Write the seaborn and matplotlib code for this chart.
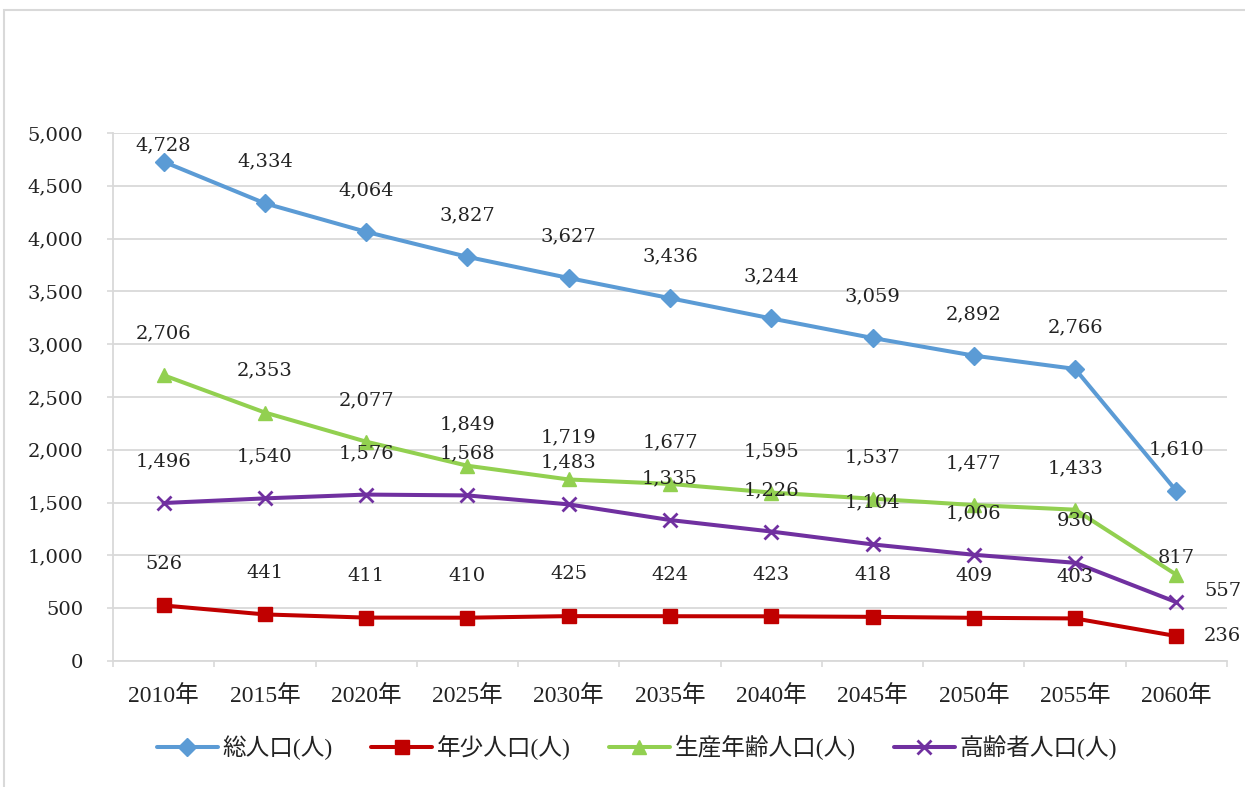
import numpy as np
import pandas as pd
import matplotlib.pyplot as plt
import matplotlib.patches as patches
import seaborn as sns

# %% データ
years = ['2010年', '2015年', '2020年', '2025年', '2030年', '2035年',
         '2040年', '2045年', '2050年', '2055年', '2060年']
total = [4728, 4334, 4064, 3827, 3627, 3436, 3244, 3059, 2892, 2766, 1610]
young = [526, 441, 411, 410, 425, 424, 423, 418, 409, 403, 236]
working = [2706, 2353, 2077, 1849, 1719, 1677, 1595, 1537, 1477, 1433, 817]
elderly = [1496, 1540, 1576, 1568, 1483, 1335, 1226, 1104, 1006, 930, 557]
names = ['総人口(人)', '年少人口(人)', '生産年齢人口(人)', '高齢者人口(人)']

# %% スタイル
sns.set_theme(style='white')
plt.rcParams['font.family'] = ['Liberation Serif', 'Noto Sans CJK JP', 'DejaVu Sans']
num_font = ['DejaVu Serif']

fig = plt.figure(figsize=(12.45, 7.87), dpi=100)
ax = fig.add_axes([113 / 1245, 1 - 661 / 787, (1227 - 113) / 1245, (661 - 133) / 787])

x = np.arange(len(years))
series = [
    (total, '#5B9BD5', 'D', 9, 1),
    (young, '#C00000', 's', 9.5, 1),
    (working, '#92D050', '^', 10, 1),
    (elderly, '#7030A0', 'x', 10, 2),
]
for (vals, col, mk, ms, mew), name in zip(series, names):
    sns.lineplot(x=x, y=vals, ax=ax, color=col, lw=2.9, marker=mk, markersize=ms,
                 mec=col, mfc=col, mew=mew, label=name, zorder=3)

# %% データラベル
for (vals, col, mk, ms, mew), name in zip(series, names):
    for i, v in enumerate(vals):
        off, ha, va = (0, 30), 'center', 'center'
        if vals is total and i == 0:
            off = (0, 12)
        if i == len(vals) - 1:
            if vals is young:
                off, ha = (20, 0), 'left'
            elif vals is elderly:
                off, ha = (20, 8), 'left'
            elif vals is working:
                off = (0, 12)
        ax.annotate(f'{v:,}', (x[i], v), xytext=off, textcoords='offset points',
                    ha=ha, va=va, fontsize=14, family=num_font, color='#222222')

# %% 軸
ax.set_ylim(0, 5000)
ax.set_xlim(-0.5, len(years) - 0.5)
ax.set_yticks(np.arange(0, 5001, 500))
ax.set_yticklabels([f'{t:,}' for t in range(0, 5001, 500)], family=num_font)
ax.set_xticks(x)
ax.set_xticklabels(years)
ax.set_xticks(np.arange(-0.5, len(years)), minor=True)
ax.grid(axis='y', color='#D9D9D9', lw=1.3)
ax.set_axisbelow(True)
ax.tick_params(axis='y', length=4.5, width=1.2, color='#D9D9D9', pad=17,
               labelsize=14, labelcolor='#222222', left=True)
ax.tick_params(axis='x', which='major', length=0, pad=17, labelsize=17,
               labelcolor='#222222', bottom=True)
ax.tick_params(axis='x', which='minor', length=4.5, width=1.2, color='#D9D9D9',
               bottom=True)
for s in ['top', 'right']:
    ax.spines[s].set_visible(False)
for s in ['left', 'bottom']:
    ax.spines[s].set_color('#D9D9D9')
    ax.spines[s].set_linewidth(1.3)
ax.set_xlabel('')
ax.set_ylabel('')

# %% 凡例
handles, labels = ax.get_legend_handles_labels()
ax.get_legend().remove()
fig.legend(handles, labels, loc='center', bbox_to_anchor=(637 / 1245, 1 - 748 / 787),
           ncol=4, frameon=False, fontsize=17, handlelength=2.6, columnspacing=1.6,
           handletextpad=0.2, labelcolor='#222222')

# %% 枠線
fig.patches.append(patches.Rectangle((4 / 1245, -0.02), 1.1, 1 - 10 / 787 + 0.02,
                                     transform=fig.transFigure, fill=False,
                                     ec='#D9D9D9', lw=1.5, figure=fig))

plt.savefig('out.png', dpi=100)
